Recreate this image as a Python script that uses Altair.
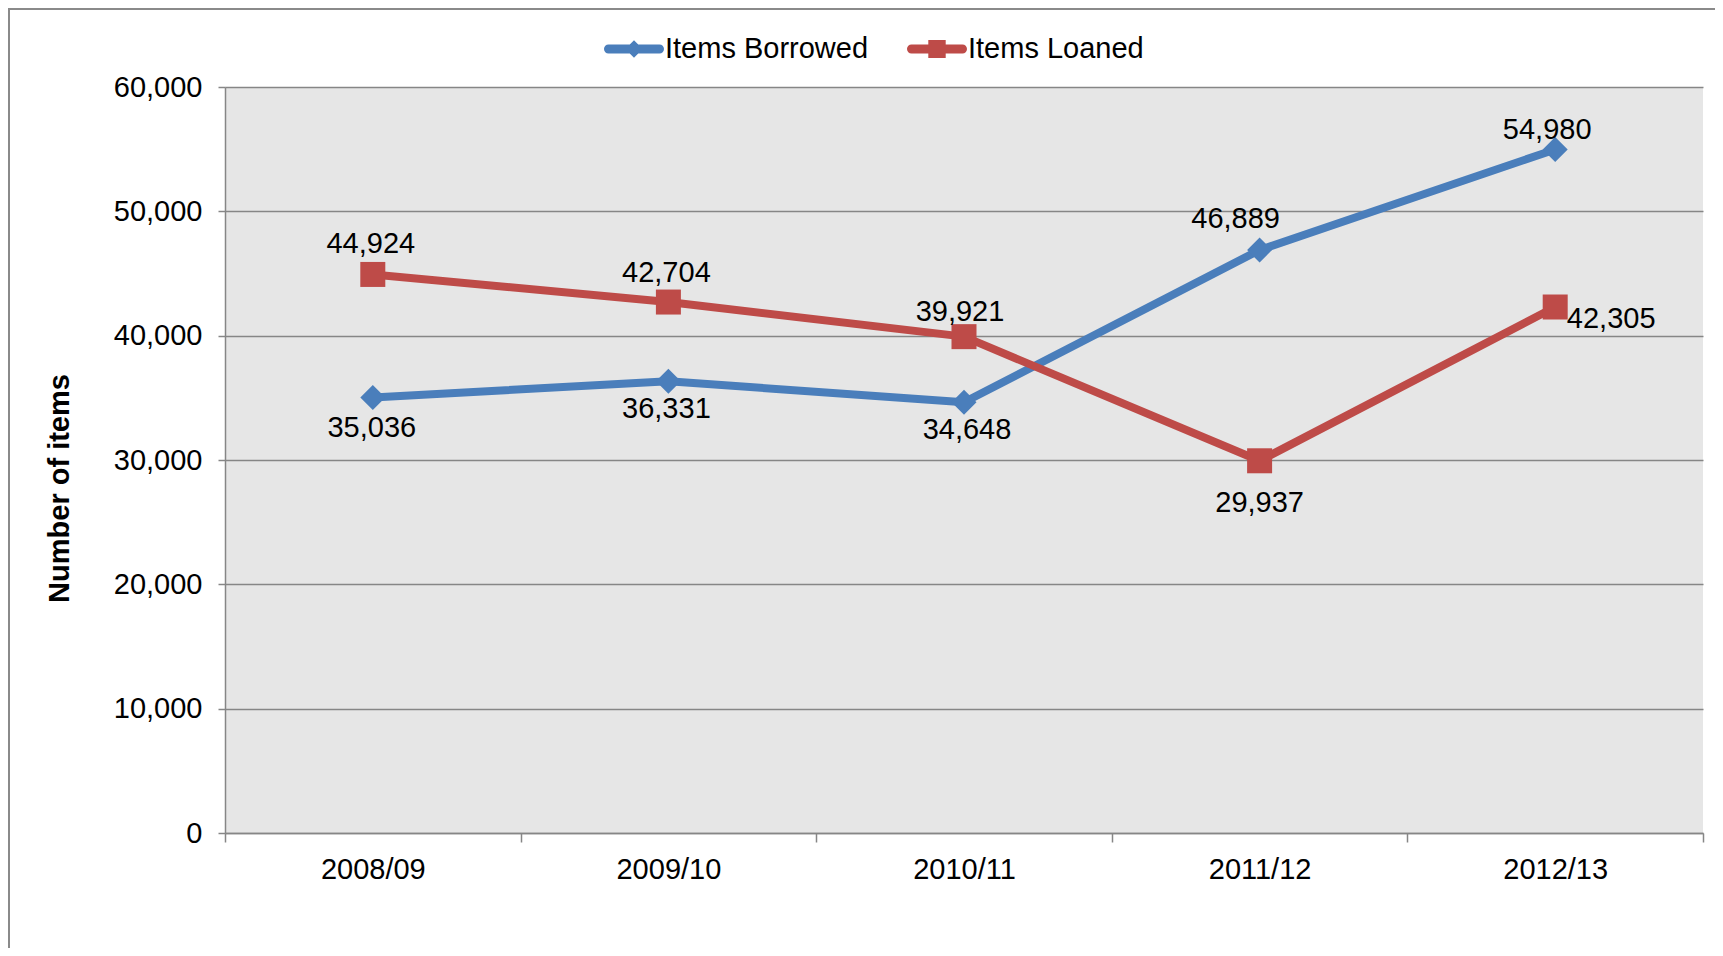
import altair as alt
import pandas as pd

years = ["2008/09", "2009/10", "2010/11", "2011/12", "2012/13"]
borrowed = [35036, 36331, 34648, 46889, 54980]
loaned = [44924, 42704, 39921, 29937, 42305]
series_names = ["Items Borrowed", "Items Loaned"]
series_colors = ["#4A7EBB", "#BE4B48"]
series_shapes = ["diamond", "square"]
y_ticks = [0, 10000, 20000, 30000, 40000, 50000, 60000]

rows = []
for y, v in zip(years, borrowed):
    rows.append({"year": y, "series": "Items Borrowed", "value": v})
for y, v in zip(years, loaned):
    rows.append({"year": y, "series": "Items Loaned", "value": v})
df = pd.DataFrame(rows)

FONT = "Liberation Sans"
FS = 29
GRID = "#868686"
W, H = 1478, 746

x_enc = alt.X(
    "year:N",
    sort=years,
    bandPosition=0.5,
    scale=alt.Scale(type="band", paddingInner=0, paddingOuter=0),
    axis=alt.Axis(
        title=None, tickBand="extent", grid=False, labelAngle=0,
        labelFontSize=FS, labelFont=FONT, labelColor="black",
        domainColor=GRID, domainWidth=1.5, tickColor=GRID, tickWidth=1.5,
        tickSize=9, labelPadding=13,
    ),
)
y_enc = alt.Y(
    "value:Q",
    scale=alt.Scale(domain=[0, 60000], nice=False),
    axis=alt.Axis(
        values=y_ticks, labelExpr="format(datum.value, ',')",
        title="Number of items", titleFontSize=FS, titleFont=FONT,
        titleFontWeight="bold", titleColor="black", titleX=-166, titleY=401,
        titleAngle=270, titleAlign="center", titleBaseline="middle",
        labelFontSize=FS, labelFont=FONT, labelColor="black", labelPadding=16,
        labelFlush=False, labelOverlap=False,
        grid=True, gridColor=GRID, gridWidth=1.5,
        domainColor=GRID, domainWidth=1.5, tickColor=GRID, tickWidth=1.5, tickSize=7,
    ),
)

base = alt.Chart(df)

# outer frame of the chart object
frame = alt.Chart(pd.DataFrame({"k": [0]})).mark_rect(
    fillOpacity=0, stroke="#8A8A8A", strokeWidth=2
).encode(
    x=alt.value(-216), x2=alt.value(W + 200), y=alt.value(-78), y2=alt.value(H + 300)
)

layers = [frame]
for name, col, shp in zip(series_names, series_colors, series_shapes):
    sub = base.transform_filter(alt.datum.series == name)
    layers.append(
        sub.mark_line(color=col, strokeWidth=8, strokeJoin="round", strokeCap="round").encode(x=x_enc, y=y_enc)
    )
    layers.append(
        sub.mark_point(shape=shp, filled=True, size=625, color=col, opacity=1, strokeWidth=0).encode(x=x_enc, y=y_enc)
    )

# data label offsets (dx, dy) in pixels, per series/year
label_offsets = {
    ("Items Borrowed", "2008/09"): (-1, 31),
    ("Items Borrowed", "2009/10"): (-2, 28),
    ("Items Borrowed", "2010/11"): (3, 28),
    ("Items Borrowed", "2011/12"): (-24, -31),
    ("Items Borrowed", "2012/13"): (-8, -19),
    ("Items Loaned", "2008/09"): (-2, -30),
    ("Items Loaned", "2009/10"): (-2, -29),
    ("Items Loaned", "2010/11"): (-4, -25),
    ("Items Loaned", "2011/12"): (0, 42),
    ("Items Loaned", "2012/13"): (56, 12),
}
for (name, yr), (dx, dy) in label_offsets.items():
    layers.append(
        base.transform_filter((alt.datum.series == name) & (alt.datum.year == yr))
        .mark_text(fontSize=FS, font=FONT, color="black", dx=dx, dy=dy, baseline="middle", align="center")
        .encode(x=x_enc, y=y_enc, text=alt.Text("value:Q", format=","))
    )

bar_path = "M-0.85,-0.15 L0.85,-0.15 A0.15,0.15 0 0 1 0.85,0.15 L-0.85,0.15 A0.15,0.15 0 0 1 -0.85,-0.15 Z"
legend_paths = [
    bar_path + " M-0.29,0 L0,-0.29 L0.29,0 L0,0.29 Z",
    bar_path + " M-0.29,-0.3 L0.29,-0.3 L0.29,0.3 L-0.29,0.3 Z",
]

legend_layer = base.transform_filter("false").mark_point(filled=True, opacity=1).encode(
    x=x_enc,
    y=y_enc,
    color=alt.Color(
        "series:N",
        scale=alt.Scale(domain=series_names, range=series_colors),
        legend=alt.Legend(
            title=None, orient="none", legendX=379, legendY=-68, direction="horizontal",
            labelFontSize=FS, labelFont=FONT, labelColor="black", labelOffset=1,
            labelLimit=1000, symbolSize=3600, symbolStrokeWidth=0, columnPadding=38, padding=0,
        ),
    ),
    shape=alt.Shape(
        "series:N",
        scale=alt.Scale(domain=series_names, range=legend_paths),
    ),
)
layers.append(legend_layer)

chart = (
    alt.layer(*layers)
    .properties(
        width=W,
        height=H,
        autosize=alt.AutoSizeParams(type="none"),
        padding={"left": 217, "top": 79, "right": 12, "bottom": 115},
        background="white",
    )
    .configure(font=FONT)
    .configure_view(fill="#E6E6E6", strokeWidth=0)
)

chart.save("out.html", embed_options={"renderer": "svg", "actions": False})
